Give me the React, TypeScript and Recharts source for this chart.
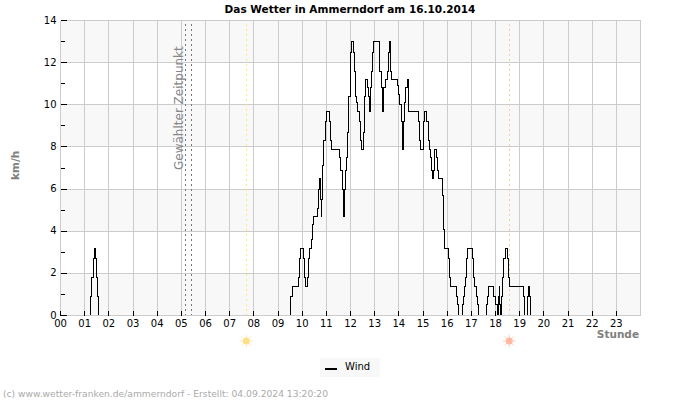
import {
  LineChart,
  Line,
  XAxis,
  YAxis,
  CartesianGrid,
  ReferenceLine,
  Legend,
} from "recharts";

// change points of the stepped wind trace: hour of day and speed from there on
const windHours = [
  0, 1.25, 1.3, 1.36, 1.4, 1.44, 1.48, 1.54, 1.58,
  9.51, 9.58, 9.83, 9.88, 9.94, 10.05, 10.1, 10.15, 10.21, 10.27, 10.31, 10.38, 10.43, 10.48,
  10.62, 10.67, 10.71, 10.75, 10.79, 10.82, 10.85, 10.9, 10.96, 10.99, 11.12, 11.16, 11.2,
  11.55, 11.59, 11.65, 11.7, 11.74, 11.78, 11.82, 11.88, 11.92, 11.98, 12.02, 12.06, 12.13,
  12.16, 12.21, 12.25, 12.3, 12.38, 12.42, 12.46, 12.53, 12.57, 12.61, 12.69, 12.73, 12.77,
  12.82, 12.86, 12.9, 12.94, 13.18, 13.22, 13.27, 13.33, 13.37, 13.43, 13.52, 13.56, 13.6,
  13.65, 13.69, 13.93, 14.0, 14.04, 14.1, 14.14, 14.17, 14.21, 14.25, 14.29, 14.34, 14.38,
  14.42, 14.8, 14.84, 14.9, 15.03, 15.07, 15.15, 15.22, 15.27, 15.32, 15.36, 15.4, 15.43,
  15.47, 15.55, 15.61, 15.65, 15.81, 15.85, 15.88, 16.06, 16.1, 16.14, 16.38, 16.42, 16.47,
  16.64, 16.67, 16.72, 16.76, 16.81, 16.86, 17.04, 17.07, 17.15, 17.2, 17.25, 17.3,
  17.62, 17.66, 17.72, 17.93, 17.99, 18.09, 18.11, 18.15, 18.18, 18.21, 18.24, 18.3, 18.35,
  18.4, 18.49, 18.53, 18.57, 19.16, 19.21, 19.34, 19.37, 19.41, 19.46, 24,
];
const windKmh = [
  0, 0.9, 1.8, 2.7, 3.2, 2.7, 1.8, 0.9, 0,
  0.9, 1.4, 1.8, 2.7, 3.2, 2.7, 1.8, 1.4, 1.8, 2.7, 3.2, 3.6, 4.3, 4.7,
  5.1, 6.0, 6.5, 5.5, 4.7, 5.5, 7.1, 8.3, 9.2, 9.7, 9.2, 8.3, 7.9,
  7.5, 6.9, 6.0, 4.7, 6.0, 6.9, 7.5, 8.7, 10.4, 11.6, 12.5, 13.0, 12.5,
  11.6, 10.4, 10.1, 9.7, 9.2, 8.3, 7.9, 8.7, 10.4, 11.2, 10.8, 10.4, 9.7,
  10.8, 11.6, 12.5, 13.0, 12.5, 11.6, 10.8, 9.7, 10.8, 11.2, 11.6, 12.5, 13.0,
  11.6, 11.2, 10.9, 10.5, 10.0, 9.2, 8.3, 7.9, 9.2, 10.1, 10.8, 11.2, 10.1,
  9.7, 9.2, 8.3, 7.9, 9.2, 9.7, 9.2, 8.3, 7.9, 7.5, 6.9, 6.5, 6.9,
  7.9, 7.5, 6.9, 6.5, 5.7, 4.1, 3.2, 2.7, 1.8, 1.4, 0.9, 0.5, 0,
  0.5, 0.9, 1.4, 1.8, 2.7, 3.2, 2.7, 1.8, 1.4, 0.9, 0.5, 0,
  0.5, 0.9, 1.4, 0.9, 0.5, 0, 0.9, 1.4, 0.5, 0, 0.9, 1.8, 2.7,
  3.2, 2.7, 1.8, 1.4, 0.9, 0, 0.9, 1.4, 0.9, 0, 0,
];

const hourTicks = [
  0, 1, 2, 3, 4, 5, 6, 7, 8, 9, 10, 11, 12, 13, 14, 15, 16, 17, 18, 19, 20, 21, 22, 23,
];
const speedTicks = [0, 1, 2, 3, 4, 5, 6, 7, 8, 9, 10, 11, 12, 13, 14];
const gridSpeeds = [0, 2, 4, 6, 8, 10, 12, 14];

const selectedHours = [5.16, 5.41];
const sunriseHour = 7.69;
const sunsetHour = 18.57;

const rows = windHours.map((hour, i) => ({ hour, wind: windKmh[i] }));

const FONT = "'DejaVu Sans', sans-serif";

// labelled ticks on even speeds, shorter unlabelled ones in between
const SpeedTick = ({ x, y, payload }: { x: number; y: number; payload: { value: number } }) => {
  const even = payload.value % 2 === 0;
  return (
    <g>
      <line x1={x + 4} x2={x + (even ? 10 : 8)} y1={y} y2={y} stroke="#000" shapeRendering="crispEdges" />
      {even && (
        <text x={x} y={y + 3} textAnchor="end" fontSize={10} fontFamily={FONT} fill="#000">
          {payload.value}
        </text>
      )}
    </g>
  );
};

const SunMark = (color: string, ray: string) => ({ viewBox }: { viewBox?: { x: number } }) => {
  const cx = viewBox?.x ?? 0;
  const cy = 341;
  const angles = [0, 45, 90, 135, 180, 225, 270, 315];
  return (
    <g>
      {angles.map((a) => (
        <line
          key={a}
          x1={cx + 3 * Math.cos((a * Math.PI) / 180)}
          y1={cy + 3 * Math.sin((a * Math.PI) / 180)}
          x2={cx + 6.5 * Math.cos((a * Math.PI) / 180)}
          y2={cy + 6.5 * Math.sin((a * Math.PI) / 180)}
          stroke={ray}
        />
      ))}
      <circle cx={cx} cy={cy} r={3.5} fill={color} />
    </g>
  );
};

const WindLegend = () => (
  <div
    style={{
      width: 60,
      height: 19,
      background: "#f8f8f8",
      position: "relative",
      fontFamily: FONT,
      fontSize: 10,
      color: "#000",
    }}
  >
    <div style={{ position: "absolute", left: 5, top: 10, width: 12, height: 2, background: "#000" }} />
    <div style={{ position: "absolute", left: 25, top: 3 }}>Wind</div>
  </div>
);

export default function App() {
  return (
    <div style={{ position: "absolute", left: 0, top: 0, width: 700, height: 400, background: "#fff" }}>
      <LineChart
        width={700}
        height={400}
        data={rows}
        margin={{ top: 20.5, right: 59.5, left: 0, bottom: 35.5 }}
      >
        <CartesianGrid
          stroke="#cccccc"
          horizontalValues={gridSpeeds}
          verticalValues={hourTicks}
          horizontalFill={["#ffffff", "#f8f8f8"]}
          shapeRendering="crispEdges"
        />
        <XAxis
          dataKey="hour"
          type="number"
          domain={[0, 24]}
          ticks={hourTicks}
          interval={0}
          height={30}
          tickFormatter={(h: number) => String(h).padStart(2, "0")}
          tick={{ fontSize: 10, fontFamily: FONT, fill: "#000" }}
          tickSize={-5}
          tickMargin={9}
          tickLine={{ stroke: "#000", shapeRendering: "crispEdges" }}
          axisLine={{ stroke: "#cccccc", shapeRendering: "crispEdges" }}
        />
        <YAxis
          type="number"
          domain={[0, 14]}
          ticks={speedTicks}
          interval={0}
          width={60.5}
          tickSize={0}
          tickMargin={4}
          tick={SpeedTick}
          tickLine={false}
          axisLine={false}
        />
        <ReferenceLine x={24} stroke="#cccccc" shapeRendering="crispEdges" />
        {selectedHours.map((h) => (
          <ReferenceLine key={h} x={h} stroke="#777" strokeDasharray="2 3" shapeRendering="crispEdges" />
        ))}
        <ReferenceLine
          x={sunriseHour}
          stroke="#f7ee6a"
          strokeDasharray="2 3"
          shapeRendering="crispEdges"
          label={SunMark("#ffe08a", "#ffe9b4")}
        />
        <ReferenceLine
          x={sunsetHour}
          stroke="#f5cf96"
          strokeDasharray="2 3"
          shapeRendering="crispEdges"
          label={SunMark("#ffb9a0", "#ffcfbc")}
        />
        <Line
          dataKey="wind"
          type="stepAfter"
          stroke="#000"
          strokeWidth={1}
          dot={false}
          activeDot={false}
          shapeRendering="crispEdges"
          isAnimationActive={false}
        />
        <Legend content={WindLegend} wrapperStyle={{ left: 320, top: 358, width: 60, height: 19 }} />
        <text x={350} y={13} textAnchor="middle" fontSize={10.5} fontWeight="bold" fontFamily={FONT} fill="#000">
          Das Wetter in Ammerndorf am 16.10.2014
        </text>
        <text
          x={183}
          y={170}
          transform="rotate(-90 183 170)"
          fontSize={12}
          fontFamily={FONT}
          fill="#888"
        >
          Gewählter Zeitpunkt
        </text>
        <text
          x={19}
          y={180}
          transform="rotate(-90 19 180)"
          fontSize={10.5}
          fontWeight="bold"
          fontFamily={FONT}
          fill="#808080"
        >
          km/h
        </text>
        <text x={639} y={338} textAnchor="end" fontSize={10.5} fontWeight="bold" fontFamily={FONT} fill="#808080">
          Stunde
        </text>
        <text x={3} y={397} fontSize={9.17} fontFamily={FONT} fill="#aaaaaa">
          (c) www.wetter-franken.de/ammerndorf - Erstellt: 04.09.2024 13:20:20
        </text>
      </LineChart>
    </div>
  );
}
